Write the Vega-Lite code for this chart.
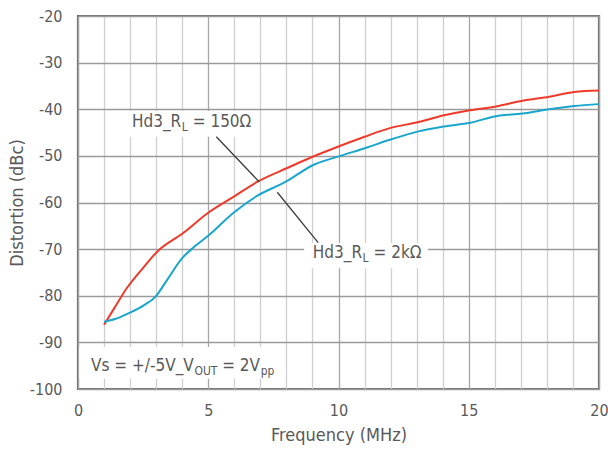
{
  "$schema": "https://vega.github.io/schema/vega-lite/v6.json",
  "width": 521,
  "height": 373,
  "autosize": "none",
  "padding": {"left": 78, "top": 16, "right": 9, "bottom": 60},
  "config": {
    "font": "DejaVu Sans Condensed, DejaVu Sans",
    "view": {"stroke": "#6f6f6f", "strokeWidth": 2.2},
    "axis": {"domain": false, "ticks": false, "labelFont": "DejaVu Sans Condensed, DejaVu Sans", "titleFont": "DejaVu Sans Condensed, DejaVu Sans", "labelColor": "#595959", "titleColor": "#595959", "labelFontSize": 16, "titleFontSize": 18, "titleFontWeight": "normal", "gridOpacity": 1}
  },
  "datasets": {
    "curves": [
      {"series": "150", "f": 1.0, "d": -86.2},
      {"series": "150", "f": 1.4, "d": -82.6},
      {"series": "150", "f": 1.87, "d": -78.4},
      {"series": "150", "f": 2.5, "d": -74.0},
      {"series": "150", "f": 3.03, "d": -70.6},
      {"series": "150", "f": 4.05, "d": -66.5},
      {"series": "150", "f": 4.95, "d": -62.4},
      {"series": "150", "f": 5.97, "d": -58.8},
      {"series": "150", "f": 6.87, "d": -55.6},
      {"series": "150", "f": 8.03, "d": -52.6},
      {"series": "150", "f": 8.92, "d": -50.4},
      {"series": "150", "f": 10.0, "d": -48.0},
      {"series": "150", "f": 11.0, "d": -45.9},
      {"series": "150", "f": 12.0, "d": -44.0},
      {"series": "150", "f": 13.03, "d": -42.8},
      {"series": "150", "f": 14.05, "d": -41.3},
      {"series": "150", "f": 15.05, "d": -40.2},
      {"series": "150", "f": 16.04, "d": -39.4},
      {"series": "150", "f": 17.06, "d": -38.2},
      {"series": "150", "f": 18.09, "d": -37.3},
      {"series": "150", "f": 19.05, "d": -36.3},
      {"series": "150", "f": 20.0, "d": -36.0},
      {"series": "2k", "f": 1.0, "d": -85.6},
      {"series": "2k", "f": 1.42, "d": -85.0},
      {"series": "2k", "f": 2.0, "d": -83.6},
      {"series": "2k", "f": 2.51, "d": -82.1},
      {"series": "2k", "f": 2.96, "d": -80.3},
      {"series": "2k", "f": 3.41, "d": -76.7},
      {"series": "2k", "f": 3.99, "d": -72.0},
      {"series": "2k", "f": 4.44, "d": -69.6},
      {"series": "2k", "f": 5.01, "d": -67.1},
      {"series": "2k", "f": 5.97, "d": -62.2},
      {"series": "2k", "f": 6.87, "d": -58.6},
      {"series": "2k", "f": 7.96, "d": -55.6},
      {"series": "2k", "f": 9.05, "d": -51.9},
      {"series": "2k", "f": 10.01, "d": -50.1},
      {"series": "2k", "f": 11.04, "d": -48.3},
      {"series": "2k", "f": 12.0, "d": -46.5},
      {"series": "2k", "f": 13.03, "d": -44.8},
      {"series": "2k", "f": 14.05, "d": -43.7},
      {"series": "2k", "f": 15.05, "d": -42.9},
      {"series": "2k", "f": 16.04, "d": -41.5},
      {"series": "2k", "f": 17.06, "d": -40.9},
      {"series": "2k", "f": 18.09, "d": -40.0},
      {"series": "2k", "f": 19.05, "d": -39.3},
      {"series": "2k", "f": 20.0, "d": -38.9}
    ],
    "boxes": [
      {"x1": 1.085, "x2": 6.9, "y1": -40.4, "y2": -45.9},
      {"x1": 8.68, "x2": 13.44, "y1": -68.7, "y2": -74.1},
      {"x1": 0.05, "x2": 7.76, "y1": -91.0, "y2": -97.8}
    ],
    "leaders": [
      {"x1": 5.31, "y1": -45.9, "x2": 6.96, "y2": -55.6},
      {"x1": 7.65, "y1": -57.8, "x2": 9.22, "y2": -68.6}
    ],
    "texts": [
      {"kind": "main", "x": 2.071, "y": -42.8, "t": "Hd3_R"},
      {"kind": "sub", "x": 3.982, "y": -42.8, "t": "L"},
      {"kind": "main", "x": 4.404, "y": -42.8, "t": "= 150Ω"},
      {"kind": "main", "x": 9.014, "y": -70.9, "t": "Hd3_R"},
      {"kind": "sub", "x": 10.925, "y": -70.9, "t": "L"},
      {"kind": "main", "x": 11.347, "y": -70.9, "t": "= 2kΩ"},
      {"kind": "main", "x": 0.499, "y": -95.0, "t": "Vs = +/-5V_V"},
      {"kind": "sub", "x": 4.469, "y": -95.0, "t": "OUT"},
      {"kind": "main", "x": 5.535, "y": -95.0, "t": "= 2V"},
      {"kind": "sub", "x": 7.012, "y": -95.0, "t": "pp"}
    ]
  },
  "layer": [
    {
      "data": {"name": "curves"},
      "mark": {"type": "line", "interpolate": "monotone", "strokeWidth": 2},
      "encoding": {
        "x": {"field": "f", "type": "quantitative", "scale": {"domain": [0, 20], "nice": false},
          "axis": {"title": "Frequency (MHz)", "values": [0,1,2,3,4,5,6,7,8,9,10,11,12,13,14,15,16,17,18,19,20], "tickCount": 21,
            "labelExpr": "datum.value % 5 === 0 ? datum.label : ''", "labelOverlap": false, "labelPadding": 13, "titlePadding": 8, "labelFlush": false,
            "gridColor": {"condition": {"test": "datum.value % 5 === 0", "value": "#a6a6a6"}, "value": "#cfcfcf"}, "gridWidth": 1.3}},
        "y": {"field": "d", "type": "quantitative", "scale": {"domain": [-100, -20], "nice": false},
          "axis": {"title": "Distortion (dBc)", "values": [-100,-90,-80,-70,-60,-50,-40,-30,-20], "tickCount": 9, "labelExpr": "replace(datum.label, '−', '-')", "labelOverlap": false, "labelPadding": 16, "titlePadding": 3, "gridColor": "#9a9a9a", "gridWidth": 1.3}},
        "color": {"field": "series", "type": "nominal", "scale": {"domain": ["150", "2k"], "range": ["#ee3a2a", "#1aa6cc"]}, "legend": null}
      }
    },
    {
      "data": {"name": "boxes"},
      "mark": {"type": "rect", "fill": "white"},
      "encoding": {
        "x": {"field": "x1", "type": "quantitative"},
        "x2": {"field": "x2"},
        "y": {"field": "y1", "type": "quantitative"},
        "y2": {"field": "y2"}
      }
    },
    {
      "data": {"name": "leaders"},
      "mark": {"type": "rule", "color": "#3c3c3c", "strokeWidth": 1.3},
      "encoding": {
        "x": {"field": "x1", "type": "quantitative"},
        "x2": {"field": "x2"},
        "y": {"field": "y1", "type": "quantitative"},
        "y2": {"field": "y2"}
      }
    },
    {
      "data": {"name": "texts"},
      "transform": [{"filter": "datum.kind === 'main'"}],
      "mark": {"type": "text", "align": "left", "baseline": "middle", "fontSize": 17, "color": "#595959"},
      "encoding": {
        "x": {"field": "x", "type": "quantitative"},
        "y": {"field": "y", "type": "quantitative"},
        "text": {"field": "t"}
      }
    },
    {
      "data": {"name": "texts"},
      "transform": [{"filter": "datum.kind === 'sub'"}],
      "mark": {"type": "text", "align": "left", "baseline": "middle", "fontSize": 12, "dy": 5, "color": "#595959"},
      "encoding": {
        "x": {"field": "x", "type": "quantitative"},
        "y": {"field": "y", "type": "quantitative"},
        "text": {"field": "t"}
      }
    }
  ]
}
